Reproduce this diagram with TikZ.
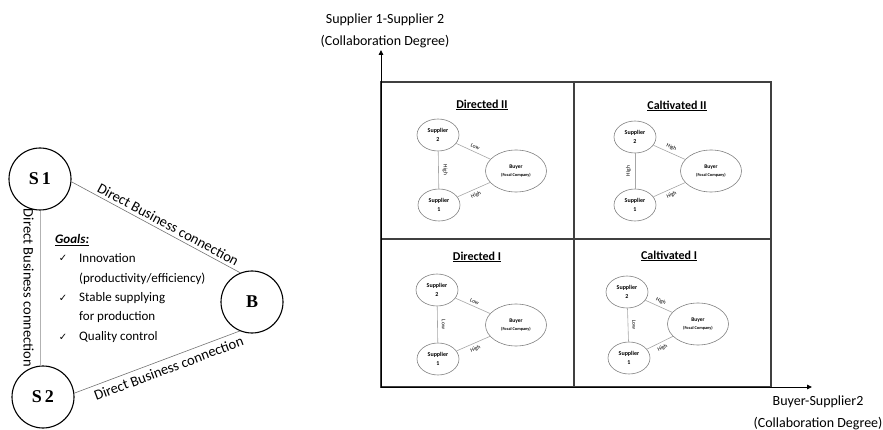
\documentclass[tikz,border=0pt]{standalone}
\usepackage{fontspec}
\setmainfont{Carlito}
\newfontfamily\serifbold{Liberation Serif}
\newfontfamily\symfont{DejaVu Sans}
\usetikzlibrary{arrows.meta,shapes.geometric}

\tikzset{
  bigcircle/.style={draw, circle, line width=1.1pt, minimum size=62pt, inner sep=0pt,
    font=\serifbold\bfseries\fontsize{18}{20}\selectfont},
  linkline/.style={draw=black!55, line width=0.6pt},
  linklabel/.style={font=\fontsize{14.5}{16}\selectfont, sloped, inner sep=2pt},
  goaltext/.style={anchor=west, inner sep=0pt, font=\fontsize{13}{15}\selectfont},
  tick/.style={inner sep=0pt, font=\symfont\fontsize{10}{12}\selectfont},
  frame/.style={draw=black!75, line width=1.1pt},
  axis/.style={-{Triangle[length=5pt,width=4.5pt]}, line width=0.9pt},
  axislabel/.style={align=center, font=\fontsize{14}{22}\selectfont},
  supp/.style={draw=black!50, ellipse, line width=0.6pt, minimum width=42pt, minimum height=32pt,
    inner sep=0pt, align=center, font=\bfseries\fontsize{6}{9}\selectfont},
  buyer/.style={draw=black!50, ellipse, line width=0.6pt, minimum width=61pt, minimum height=42pt,
    inner sep=0pt, align=center, font=\bfseries\fontsize{5.5}{7}\selectfont},
  tie/.style={draw=black!35, line width=0.6pt},
  tielabel/.style={font=\fontsize{5.5}{6}\selectfont, sloped, inner sep=1pt},
  paneltitle/.style={font=\bfseries\fontsize{12}{14}\selectfont},
}

% One quadrant: #1 prefix, #2 title position, #3 title, #4 supplier 2, #5 buyer,
% #6 supplier 1, #7 S2--buyer level, #8 S1--S2 level, #9 S1--buyer level
\newcommand\quadpanel[9]{%
  \node[paneltitle] (#1t) at (#2) {\underline{#3}};
  \node[supp] (#1s2) at (#4) {Supplier\\2};
  \node[buyer] (#1b) at (#5) {Buyer\\[1pt]{\fontsize{4.3}{5}\selectfont(Focal Company)}};
  \node[supp] (#1s1) at (#6) {Supplier\\1};
  \draw[tie] (#1s2) -- node[tielabel, above=1.5pt] {#7} (#1b);
  \draw[tie] (#1s1) -- node[tielabel, above=3pt] {#8} (#1s2);
  \draw[tie] (#1s1) -- node[tielabel, below=2pt] {#9} (#1b);
}

\begin{document}
\begin{tikzpicture}[x=1pt, y=-1pt]
  \useasboundingbox (0,0) rectangle (883,430);

  % ---- triangle of direct business connections ----
  \node[bigcircle] (S1) at (40,179) {S\,1};
  \node[bigcircle] (S2) at (43,397) {S\,2};
  \node[bigcircle] (B)  at (252,302) {B};

  \draw[linkline] (S1.-5) -- node[linklabel, above=1pt, pos=0.55] {Direct Business connection} (B.112);
  \draw[linkline] (S2.7) -- node[linklabel, below=2.5pt, pos=0.55] {Direct Business connection} (B.247);
  \draw[linkline, draw=black!30] (S1.south) -- node[linklabel, below=4pt, pos=0.5] {Direct Business connection} (S1.south |- S2.north);

  % goals list
  \node[goaltext] (goals) at (55,240) {\textbf{\textit{\underline{Goals:}}}};
  \node[tick] (c1) at (63,258) {✓};
  \node[goaltext] (g1) at (79,258) {Innovation};
  \node[goaltext] (g2) at (79,279) {(productivity/efficiency)};
  \node[tick] (c2) at (63,298) {✓};
  \node[goaltext] (g3) at (79,298) {Stable supplying};
  \node[goaltext] (g4) at (79,317) {for production};
  \node[tick] (c3) at (63,337) {✓};
  \node[goaltext] (g5) at (79,337) {Quality control};

  % ---- collaboration matrix ----
  \coordinate (origin) at (381,387);
  \coordinate (ytip) at (381,50);
  \coordinate (xtip) at (812,387);
  \draw[frame] (381,82) rectangle (771,387);
  \draw[frame] (574,82) -- (574,387);
  \draw[frame] (381,239) -- (771,239);
  \draw[axis] (origin) -- (ytip);
  \draw[axis] (origin) -- (xtip);

  \node[axislabel] (ylab) at (385,31) {Supplier 1-Supplier 2\\(Collaboration Degree)};
  \node[axislabel] (xlab) at (818,413) {Buyer-Supplier2\\(Collaboration Degree)};

  \quadpanel{dII}{482,105}{Directed II}{438,135}{516,171}{439,205}{Low}{High}{High}
  \quadpanel{cII}{677,106}{Caltivated II}{635,137}{711,171}{635,205}{High}{High}{High}
  \quadpanel{dI}{477,257}{Directed I}{437,290}{516,325}{438,359}{Low}{Low}{High}
  \quadpanel{cI}{669,256}{Caltivated I}{627,292}{698,324}{629,358}{High}{Low}{High}
\end{tikzpicture}
\end{document}
